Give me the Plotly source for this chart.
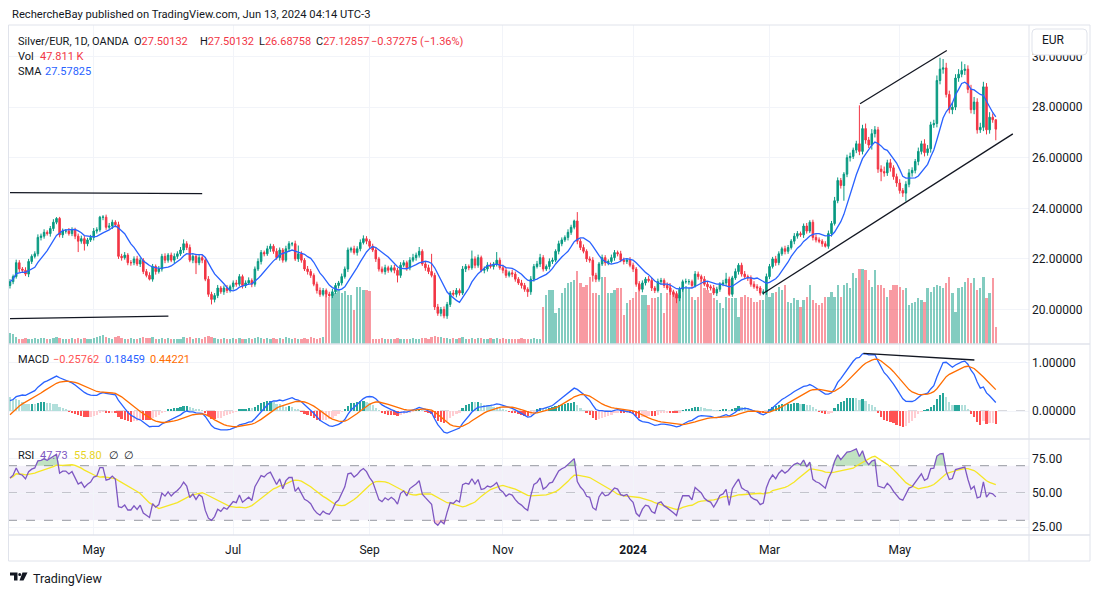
import numpy as np
import pandas as pd
import plotly.graph_objects as go

# ---------------- data ----------------
start_date = "2023-03-23"
end_date = "2024-06-13"
skipped_days = ["2023-12-25", "2024-03-29"]

first_open = 20.95

closes = [
    21.1, 21.3, 21.85, 21.6, 21.55, 21.4, 21.9, 22.1, 22.2, 22.85,
    22.9, 23.05, 23.0, 23.2, 23.45, 23.6, 22.95, 23.1, 23.1, 23.0,
    23.15, 22.9, 22.7, 22.8, 22.6, 22.75, 22.85, 23.1, 23.15, 23.65,
    23.65, 23.25, 23.3, 23.45, 23.35, 22.1, 22.05, 22.15, 21.85, 21.85,
    22.0, 21.8, 21.95, 21.5, 21.35, 21.2, 21.7, 21.5, 21.6, 22.1,
    21.95, 22.15, 21.95, 22.1, 22.2, 22.35, 22.6, 22.45, 21.95, 22.1,
    21.85, 22.05, 21.95, 21.2, 20.6, 20.4, 20.55, 20.85, 20.7, 20.85,
    20.75, 20.9, 21.05, 21.0, 21.3, 20.95, 21.05, 21.15, 21.0, 21.6,
    21.9, 22.25, 22.2, 22.4, 22.5, 22.3, 22.05, 22.35, 21.95, 22.4,
    22.6, 22.6, 22.0, 22.2, 21.95, 21.6, 21.5, 21.35, 21.0, 20.75,
    20.6, 20.75, 20.6, 20.55, 20.7, 20.95, 21.05, 21.3, 21.6, 22.35,
    22.4, 22.25, 22.4, 22.65, 22.8, 22.7, 22.5, 22.35, 22.0, 21.6,
    21.5, 21.65, 21.55, 21.65, 21.55, 21.35, 21.75, 21.85, 21.65, 21.95,
    22.05, 22.15, 22.3, 21.8, 21.65, 21.5, 21.35, 20.1, 19.85, 20.0,
    19.75, 20.2, 20.65, 20.6, 20.75, 20.65, 21.6, 21.7, 21.65, 22.0,
    21.75, 22.05, 21.55, 21.6, 21.75, 21.7, 21.8, 21.95, 21.65, 21.55,
    21.35, 21.45, 21.4, 21.2, 21.05, 20.95, 20.8, 20.7, 21.2, 21.7,
    21.8, 22.05, 21.6, 21.7, 21.9, 21.95, 22.3, 22.6, 22.75, 22.85,
    23.05, 23.25, 23.5, 22.7, 22.45, 22.3, 22.0, 21.95, 21.35, 21.2,
    21.8, 22.05, 21.85, 21.9, 22.05, 22.25, 22.2, 21.95, 21.9, 21.95,
    21.75, 21.6, 21.0, 20.8, 21.05, 21.2, 21.15, 20.85, 20.75, 21.1,
    21.15, 20.95, 20.85, 20.7, 20.6, 20.45, 20.8, 21.1, 21.1, 21.1,
    20.95, 21.4, 21.3, 21.2, 21.0, 20.9, 20.85, 20.65, 20.8, 21.0,
    21.05, 21.2, 20.6, 21.25, 21.5, 21.75, 21.4, 21.3, 21.25, 21.0,
    20.9, 20.85, 20.65, 20.7, 21.3, 21.7, 22.0, 21.85, 22.2, 22.4,
    22.3, 22.45, 22.7, 22.9, 23.0, 22.95, 23.3, 23.1, 23.45, 22.85,
    22.75, 22.7, 22.6, 22.5, 23.0, 23.4, 24.3, 25.1, 24.9, 25.35,
    26.0, 26.05, 26.3, 26.55, 26.25, 27.15, 26.7, 26.5, 26.95, 27.1,
    25.55, 25.45, 25.4, 25.8, 25.6, 25.25, 25.0, 24.7, 24.6, 24.95,
    25.4, 25.5, 25.85, 26.25, 26.55, 26.2, 26.35, 27.3, 27.35, 29.05,
    29.5, 29.55, 28.5, 27.9, 28.0, 29.15, 29.3, 29.45, 29.5, 28.7,
    27.9, 28.2, 27.1, 27.2, 28.8, 27.1, 27.6, 27.50132, 27.12857,
]

# wick lengths above the body / below the body, in hundredths of EUR
upper_wick = [
    10, 8, 12, 10, 8, 12, 10, 8, 10, 12,
    10, 12, 8, 10, 12, 5, 6, 10, 8, 12,
    10, 8, 10, 12, 10, 8, 10, 12, 10, 5,
    8, 10, 12, 10, 8, 12, 10, 12, 8, 10,
    10, 12, 10, 8, 10, 12, 10, 8, 12, 10,
    12, 8, 10, 12, 10, 12, 17, 10, 12, 8,
    10, 12, 10, 8, 12, 10, 10, 12, 8, 10,
    12, 8, 10, 12, 10, 8, 10, 12, 8, 10,
    12, 10, 8, 12, 10, 8, 12, 10, 8, 12,
    10, 7, 12, 33, 10, 8, 12, 10, 8, 10,
    12, 10, 8, 10, 12, 10, 8, 12, 10, 10,
    8, 12, 10, 12, 13, 10, 8, 10, 12, 8,
    10, 12, 8, 10, 12, 10, 12, 10, 8, 12,
    15, 10, 17, 8, 10, 12, 70, 10, 12, 10,
    12, 10, 8, 12, 10, 8, 12, 10, 8, 33,
    10, 12, 8, 10, 12, 10, 8, 32, 10, 12,
    10, 8, 12, 10, 8, 12, 10, 8, 12, 10,
    12, 15, 10, 8, 12, 10, 8, 12, 10, 8,
    12, 10, 5, 35, 10, 12, 8, 10, 12, 10,
    8, 12, 10, 8, 12, 10, 8, 12, 10, 8,
    12, 10, 8, 12, 10, 8, 12, 10, 8, 12,
    10, 8, 12, 10, 8, 12, 10, 8, 12, 10,
    8, 12, 10, 8, 12, 10, 8, 12, 10, 8,
    12, 25, 10, 8, 12, 8, 10, 12, 8, 10,
    12, 10, 8, 10, 12, 10, 8, 12, 10, 8,
    12, 10, 8, 12, 10, 8, 10, 12, 8, 10,
    12, 10, 8, 10, 12, 10, 15, 12, 10, 8,
    12, 15, 10, 12, 152, 15, 20, 12, 18, 15,
    12, 15, 20, 12, 15, 10, 12, 15, 10, 12,
    15, 12, 10, 15, 12, 18, 15, 12, 15, 20,
    45, 35, 20, 15, 18, 15, 20, 35, 20, 15,
    18, 20, 15, 18, 20, 15, 20, 15, 0,
]

lower_wick = [
    12, 10, 8, 12, 10, 8, 12, 10, 8, 10,
    12, 10, 8, 12, 10, 8, 10, 12, 10, 8,
    10, 12, 43, 10, 27, 10, 8, 12, 10, 8,
    12, 10, 8, 12, 10, 10, 12, 8, 10, 12,
    10, 8, 12, 10, 8, 5, 10, 12, 8, 10,
    12, 10, 8, 12, 10, 8, 12, 10, 8, 12,
    45, 10, 12, 8, 10, 20, 12, 10, 8, 12,
    10, 8, 12, 10, 8, 12, 10, 8, 12, 10,
    8, 12, 10, 8, 12, 10, 8, 12, 10, 8,
    12, 10, 8, 12, 10, 8, 12, 10, 8, 12,
    10, 8, 12, 5, 10, 8, 12, 10, 8, 12,
    10, 8, 12, 10, 8, 12, 10, 8, 12, 10,
    8, 12, 10, 8, 12, 28, 10, 8, 12, 10,
    8, 12, 10, 8, 12, 10, 8, 12, 10, 12,
    10, 12, 10, 8, 12, 10, 8, 12, 10, 8,
    12, 10, 8, 12, 10, 8, 12, 10, 8, 12,
    10, 8, 12, 10, 8, 12, 10, 20, 12, 10,
    8, 12, 10, 8, 12, 10, 8, 12, 10, 8,
    12, 10, 8, 12, 10, 8, 12, 10, 25, 12,
    10, 8, 12, 10, 8, 12, 10, 8, 12, 10,
    8, 12, 10, 8, 12, 10, 8, 12, 10, 8,
    12, 10, 8, 12, 10, 20, 12, 10, 8, 12,
    10, 8, 12, 10, 8, 12, 10, 8, 12, 10,
    8, 12, 7, 10, 8, 12, 10, 8, 12, 10,
    8, 12, 10, 8, 12, 10, 8, 12, 10, 8,
    12, 10, 8, 12, 10, 8, 12, 10, 8, 12,
    10, 8, 12, 5, 10, 12, 8, 10, 12, 60,
    12, 15, 10, 12, 15, 12, 15, 12, 18, 15,
    15, 38, 15, 12, 15, 12, 15, 12, 15, 33,
    12, 15, 12, 15, 12, 15, 12, 15, 12, 15,
    15, 18, 12, 15, 18, 12, 15, 12, 18, 15,
    15, 18, 15, 12, 15, 18, 15, 12, 44,
]

volume_k = [
    31, 28, 20, 15, 14, 16, 14, 15, 16, 15,
    17, 16, 15, 14, 16, 18, 17, 15, 14, 15,
    16, 14, 17, 15, 16, 15, 14, 16, 18, 22,
    24, 20, 16, 15, 18, 22, 16, 15, 14, 16,
    15, 14, 16, 18, 17, 16, 19, 15, 14, 17,
    15, 16, 14, 13, 15, 14, 18, 16, 20, 15,
    17, 16, 15, 18, 22, 20, 17, 15, 14, 16,
    15, 14, 16, 13, 17, 15, 14, 16, 15, 17,
    18, 16, 15, 17, 14, 16, 15, 17, 14, 18,
    16, 15, 17, 15, 14, 16, 15, 18, 16, 15,
    17, 20, 135, 130, 138, 140, 149, 140, 146, 135,
    135, 94, 157, 157, 149, 150, 145, 14, 15, 13,
    16, 14, 15, 13, 14, 16, 15, 14, 13, 15,
    16, 14, 15, 17, 16, 15, 18, 22, 20, 18,
    17, 16, 15, 17, 14, 16, 18, 15, 14, 16,
    15, 17, 16, 14, 15, 16, 14, 17, 15, 16,
    14, 15, 13, 15, 14, 16, 15, 14, 15, 16,
    15, 14, 102, 135, 149, 149, 86, 99, 141, 155,
    168, 171, 177, 201, 168, 157, 163, 185, 141, 141,
    135, 185, 185, 141, 141, 149, 155, 155, 80, 113,
    121, 127, 144, 168, 135, 135, 108, 127, 127, 130,
    141, 86, 141, 168, 141, 141, 135, 155, 160, 154,
    130, 121, 130, 177, 154, 149, 140, 126, 121, 112,
    98, 130, 126, 126, 126, 75, 130, 135, 130, 126,
    117, 117, 121, 121, 149, 130, 140, 144, 158, 149,
    163, 117, 112, 126, 121, 103, 121, 130, 163, 121,
    112, 108, 112, 130, 130, 144, 130, 163, 131, 163,
    167, 154, 195, 181, 206, 206, 204, 177, 158, 204,
    163, 163, 154, 131, 149, 163, 163, 158, 149, 154,
    108, 112, 117, 126, 121, 117, 154, 144, 158, 163,
    160, 154, 167, 184, 140, 89, 154, 158, 172, 181,
    167, 181, 149, 154, 186, 126, 140, 181, 47.811,
]

# indicator state just before the first visible bar
indicator_seed = {"ema12": 20.75, "ema26": 20.55, "signal": -0.15,
                  "avg_gain": 0.16, "avg_loss": 0.11}

tick_months = ["2023-05", "2023-07", "2023-09", "2023-11", "2024-01", "2024-03", "2024-05"]
tick_labels = ["May", "Jul", "Sep", "Nov", "<b>2024</b>", "Mar", "May"]

price_ticks = [20, 22, 24, 26, 28, 30]
macd_ticks = [0, 1]
rsi_ticks = [25, 50, 75]

# drawings: (bar index start, value start, bar index end, value end)
price_trendlines = [
    (0.0, 24.62, 62.0, 24.58),
    (0.0, 19.64, 51.1, 19.74),
    (242.8, 20.62, 323.5, 26.94),
    (274.2, 28.13, 302.2, 30.24),
]
macd_trendline = (275.3, 1.195, 311.1, 1.056)

legend_ohlc = ["27.50132", "27.50132", "26.68758", "27.12857"]
legend_change = "\u22120.37275 (\u22121.36%)"
legend_vol = "47.811 K"
legend_sma = "27.57825"
legend_macd = ["\u22120.25762", "0.18459", "0.44221"]
legend_rsi = ["47.73", "55.80"]

# ---------------- derived series ----------------
dates = pd.bdate_range(start_date, end_date)
dates = dates[~dates.isin(pd.to_datetime(skipped_days))]
n = min(len(dates), len(closes))
dates = dates[:n]
x = np.arange(n)
close = np.array(closes[:n], dtype=float)
opn = np.array([first_open] + closes[: n - 1], dtype=float)
high = np.maximum(opn, close) + np.array(upper_wick[:n]) / 100.0
low = np.minimum(opn, close) - np.array(lower_wick[:n]) / 100.0
vol = np.array(volume_k[:n], dtype=float)
up = close >= opn


def ema(values, span, prev):
    a = 2.0 / (span + 1)
    out = []
    for v in values:
        prev = a * v + (1 - a) * prev
        out.append(prev)
    return np.array(out)


sma = pd.Series(close).rolling(9, min_periods=1).mean().values
macd = ema(close, 12, indicator_seed["ema12"]) - ema(close, 26, indicator_seed["ema26"])
signal = ema(macd, 9, indicator_seed["signal"])
hist = macd - signal

ag, al = indicator_seed["avg_gain"], indicator_seed["avg_loss"]
rsi = []
prev_c = first_open
for c in close:
    d = c - prev_c
    ag = (ag * 13 + max(d, 0)) / 14
    al = (al * 13 + max(-d, 0)) / 14
    rsi.append(100 - 100 / (1 + ag / al))
    prev_c = c
rsi = np.array(rsi)
rsi_ma = pd.Series(rsi).rolling(14, min_periods=1).mean().values

hist_colors = []
for k in range(n):
    h = hist[k]
    prev = hist[k - 1] if k > 0 else h
    if h >= 0:
        hist_colors.append("#26A69A" if h > prev else "#B2DFDB")
    else:
        hist_colors.append("#FFCDD2" if h > prev else "#FF5252")

tickvals = []
for m in tick_months:
    idx = np.where(dates >= pd.Timestamp(m + "-01"))[0]
    tickvals.append(int(idx[0]))

# ---------------- figure ----------------
# the page body adds an 8px offset, so the figure is drawn 8px smaller and all
# reference pixel positions below are given in window coordinates.
OFF = 8
W, H = 1100 - OFF, 594 - OFF
L, T = 8 - OFF, 25 - OFF
R = W - (1029 - OFF)
B = H - (535 - OFF)
PW, PH = W - L - R, H - T - B


def px(xp):
    return (xp - OFF - L) / PW


def py(yp):
    return (H - B - (yp - OFF)) / PH


d_price = [py(344), 1.0]
d_macd = [py(439), py(344)]
d_rsi = [0.0, py(439)]

UP, DN = "#089981", "#F23645"
TXT = "#131722"
GRID = "#F2F4F9"
BORDER = "#E0E3EB"
FONT = "Roboto, 'Open Sans', sans-serif"

fig = go.Figure()

fig.add_trace(go.Bar(
    x=x, y=vol, width=0.72,
    marker=dict(color=["rgba(8,153,129,0.5)" if u else "rgba(242,54,69,0.5)" for u in up], line=dict(width=0)),
    xaxis="x", yaxis="y", hoverinfo="skip", showlegend=False))

fig.add_trace(go.Candlestick(
    x=x, open=opn, high=high, low=low, close=close,
    increasing=dict(line=dict(color=UP, width=1), fillcolor=UP),
    decreasing=dict(line=dict(color=DN, width=1), fillcolor=DN),
    whiskerwidth=0, xaxis="x", yaxis="y2", showlegend=False, hoverinfo="skip"))

fig.add_trace(go.Scatter(x=x, y=sma, mode="lines", line=dict(color="#2962FF", width=1.3),
                         xaxis="x", yaxis="y2", showlegend=False, hoverinfo="skip"))

# MACD
fig.add_trace(go.Bar(x=x, y=hist, width=0.72, marker=dict(color=hist_colors, line=dict(width=0)),
                     xaxis="x2", yaxis="y3", showlegend=False, hoverinfo="skip"))
fig.add_trace(go.Scatter(x=x, y=macd, mode="lines", line=dict(color="#2962FF", width=1.3),
                         xaxis="x2", yaxis="y3", showlegend=False, hoverinfo="skip"))
fig.add_trace(go.Scatter(x=x, y=signal, mode="lines", line=dict(color="#FF6D00", width=1.3),
                         xaxis="x2", yaxis="y3", showlegend=False, hoverinfo="skip"))

# RSI
ob = np.where(rsi > 70, rsi, 70.0)
os_ = np.where(rsi < 30, rsi, 30.0)
fig.add_trace(go.Scatter(x=x, y=np.full(n, 70.0), mode="lines", line=dict(width=0),
                         xaxis="x3", yaxis="y4", showlegend=False, hoverinfo="skip"))
fig.add_trace(go.Scatter(x=x, y=ob, mode="lines", line=dict(width=0), fill="tonexty",
                         fillcolor="rgba(76,175,80,0.35)", xaxis="x3", yaxis="y4",
                         showlegend=False, hoverinfo="skip"))
fig.add_trace(go.Scatter(x=x, y=np.full(n, 30.0), mode="lines", line=dict(width=0),
                         xaxis="x3", yaxis="y4", showlegend=False, hoverinfo="skip"))
fig.add_trace(go.Scatter(x=x, y=os_, mode="lines", line=dict(width=0), fill="tonexty",
                         fillcolor="rgba(242,54,69,0.25)", xaxis="x3", yaxis="y4",
                         showlegend=False, hoverinfo="skip"))
fig.add_trace(go.Scatter(x=x, y=rsi_ma, mode="lines", line=dict(color="#F5E625", width=1.3),
                         xaxis="x3", yaxis="y4", showlegend=False, hoverinfo="skip"))
fig.add_trace(go.Scatter(x=x, y=rsi, mode="lines", line=dict(color="#7E57C2", width=1.3),
                         xaxis="x3", yaxis="y4", showlegend=False, hoverinfo="skip"))

xr = [-(10 - 8) / 3.1, (1029 - 10) / 3.1]
xcommon = dict(range=xr, tickvals=tickvals, showgrid=True, gridcolor=GRID, gridwidth=1,
               zeroline=False, showline=False, ticks="", fixedrange=True)

ytick_font = dict(family=FONT, size=12, color=TXT)

fig.update_layout(
    width=W, height=H,
    margin=dict(l=L, r=R, t=T, b=B, pad=0),
    paper_bgcolor="white", plot_bgcolor="white",
    showlegend=False, bargap=0, hovermode=False,
    xaxis=dict(domain=[0, 1], anchor="y", showticklabels=False,
               rangeslider=dict(visible=False), **xcommon),
    xaxis2=dict(domain=[0, 1], anchor="y3", showticklabels=False, **xcommon),
    xaxis3=dict(domain=[0, 1], anchor="y4", showticklabels=True, ticktext=tick_labels,
                tickfont=dict(family=FONT, size=12, color=TXT), ticklabelstandoff=6, **xcommon),
    yaxis=dict(domain=d_price, range=[0, 880], visible=False, fixedrange=True),
    yaxis2=dict(overlaying="y", anchor="x", side="right",
                range=[20 - (344 - 309.5) / 25.3, 20 + (309.5 - 25) / 25.3],
                tickvals=price_ticks, ticktext=[f"{v:.5f}" for v in price_ticks],
                showgrid=True, gridcolor=GRID, zeroline=False, showline=False, ticks="",
                tickfont=ytick_font, ticklabelstandoff=2, fixedrange=True),
    yaxis3=dict(domain=d_macd, anchor="x2", side="right",
                range=[-(439 - 411) / 48.3, (411 - 344) / 48.3],
                tickvals=macd_ticks, ticktext=[f"{v:.5f}" for v in macd_ticks],
                showgrid=True, gridcolor=GRID, zeroline=False, showline=False, ticks="",
                tickfont=ytick_font, ticklabelstandoff=2, fixedrange=True),
    yaxis4=dict(domain=d_rsi, anchor="x3", side="right",
                range=[50 - (535 - 493) / 1.365, 50 + (493 - 439) / 1.365],
                tickvals=rsi_ticks, ticktext=[f"{v:.2f}" for v in rsi_ticks],
                showgrid=True, gridcolor=GRID, zeroline=False, showline=False, ticks="",
                tickfont=ytick_font, ticklabelstandoff=2, fixedrange=True),
)

shapes = []
# RSI band and dashed levels
shapes.append(dict(type="rect", xref="x3 domain", yref="y4", x0=0, x1=1, y0=30, y1=70,
                   fillcolor="rgba(126,87,194,0.09)", line=dict(width=0), layer="below"))
for lv in (70, 50, 30):
    shapes.append(dict(type="line", xref="x3 domain", yref="y4", x0=0, x1=1, y0=lv, y1=lv,
                       line=dict(color="#9598A1", width=1, dash="dash"), layer="below"))
shapes.append(dict(type="line", xref="x2 domain", yref="y3", x0=0, x1=1, y0=0, y1=0,
                   line=dict(color="#B2B5BE", width=1, dash="dash"), layer="below"))

# trend lines
for (x0, y0, x1, y1) in price_trendlines:
    shapes.append(dict(type="line", xref="x", yref="y2", x0=x0, y0=y0, x1=x1, y1=y1,
                       line=dict(color="#131722", width=1.3)))
shapes.append(dict(type="line", xref="x2", yref="y3", x0=macd_trendline[0], y0=macd_trendline[1],
                   x1=macd_trendline[2], y1=macd_trendline[3], line=dict(color="#131722", width=1.3)))

# frame and separators
shapes.append(dict(type="rect", xref="paper", yref="paper", x0=px(8.5), x1=px(1090), y0=py(561), y1=py(25),
                   line=dict(color=BORDER, width=1), fillcolor="rgba(0,0,0,0)"))
shapes.append(dict(type="line", xref="paper", yref="paper", x0=px(1029), x1=px(1029), y0=py(561), y1=py(25),
                   line=dict(color=BORDER, width=1)))
for yy in (344, 439, 535):
    shapes.append(dict(type="line", xref="paper", yref="paper", x0=px(8.5), x1=px(1090), y0=py(yy), y1=py(yy),
                       line=dict(color=BORDER, width=1.5)))


def path(pts, close_path=True):
    return "M " + " L ".join(f"{px(a)},{py(b)}" for a, b in pts) + (" Z" if close_path else "")


# currency button (rounded box) that covers the top of the highest price label
bx0, bx1, by0, by1, rr = 1032, 1087, 29, 55, 4
box = (f"M {px(bx0 + rr)},{py(by0)} L {px(bx1 - rr)},{py(by0)} "
       f"Q {px(bx1)},{py(by0)} {px(bx1)},{py(by0 + rr)} L {px(bx1)},{py(by1 - rr)} "
       f"Q {px(bx1)},{py(by1)} {px(bx1 - rr)},{py(by1)} L {px(bx0 + rr)},{py(by1)} "
       f"Q {px(bx0)},{py(by1)} {px(bx0)},{py(by1 - rr)} L {px(bx0)},{py(by0 + rr)} "
       f"Q {px(bx0)},{py(by0)} {px(bx0 + rr)},{py(by0)} Z")
shapes.append(dict(type="path", xref="paper", yref="paper", path=box, fillcolor="white",
                   line=dict(color=BORDER, width=1), layer="above"))

# TradingView logo mark
shapes.append(dict(type="path", xref="paper", yref="paper",
                   path=path([(10, 572.5), (17.5, 572.5), (17.5, 580.5), (14, 580.5), (14, 575.5), (10, 575.5)]),
                   fillcolor=TXT, line=dict(width=0)))
shapes.append(dict(type="circle", xref="paper", yref="paper", x0=px(18.2), x1=px(21.2), y0=py(576), y1=py(573),
                   fillcolor=TXT, line=dict(width=0)))
shapes.append(dict(type="path", xref="paper", yref="paper",
                   path=path([(22.5, 572.5), (27.5, 572.5), (23.5, 580.5), (19.5, 580.5)]),
                   fillcolor=TXT, line=dict(width=0)))
fig.update_layout(shapes=shapes)

anns = []


def ann(xp, yp, text, color=TXT, size=11, **kw):
    d = dict(xref="paper", yref="paper", x=px(xp), y=py(yp), text=text, showarrow=False,
             xanchor="left", yanchor="middle", font=dict(family=FONT, size=size, color=color))
    d.update(kw)
    anns.append(d)


def red(s):
    return f"<span style='color:{DN}'>{s}</span>"


ann(10, 14, "RechercheBay published on TradingView.com, Jun 13, 2024 04:14 UTC-3", size=11.2)
ann(16, 41, "Silver/EUR, 1D, OANDA")
for xp, lab, val in zip((132, 198, 257, 314), "OHLC", legend_ohlc):
    ann(xp, 41, lab + red(val))
ann(369, 41, legend_change, color=DN)
ann(16, 56, "Vol")
ann(38, 56, legend_vol, color=DN)
ann(16, 71, "SMA")
ann(43, 71, legend_sma, color="#2962FF")

ann(16, 359, "MACD")
ann(51, 359, legend_macd[0], color="#FF5252")
ann(103, 359, legend_macd[1], color="#2962FF")
ann(148, 359, legend_macd[2], color="#FF6D00")

ann(16, 455, "RSI")
ann(38, 455, legend_rsi[0], color="#7E57C2")
ann(72, 455, legend_rsi[1], color="#E8D41E")
ann(107, 455, "\u2205")
ann(122, 455, "\u2205")

ann(31, 578, "TradingView", size=12.5)
ann(1040, 40, "EUR", size=12)

fig.update_layout(annotations=anns)

fig.write_html("out.html")
